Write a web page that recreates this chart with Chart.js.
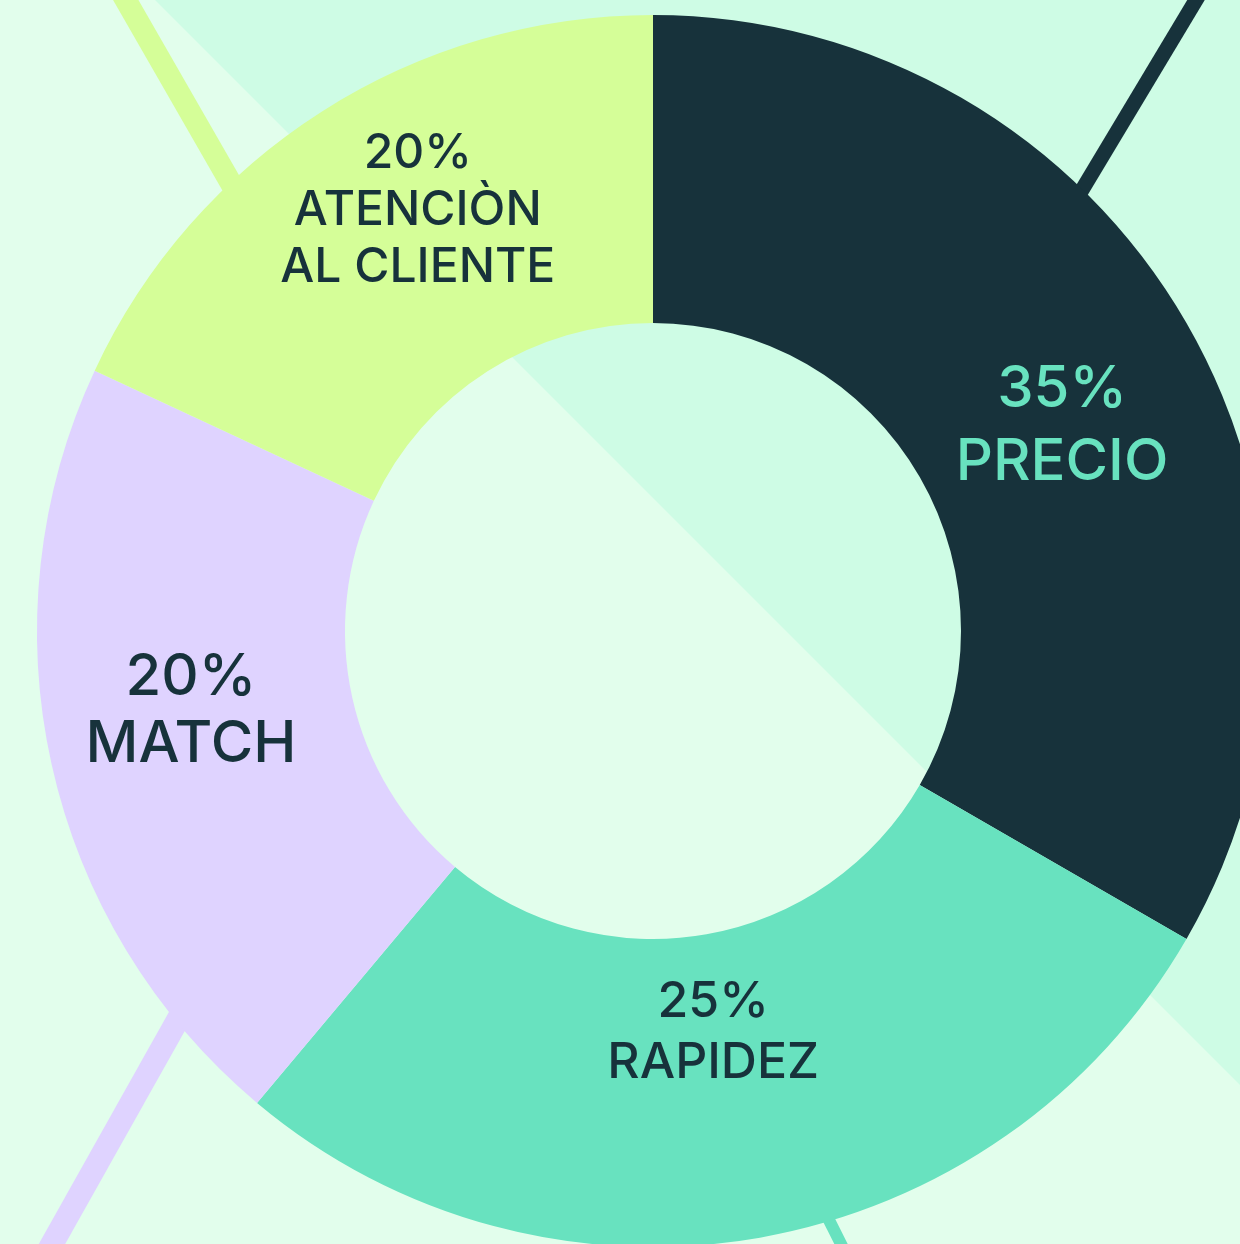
<!DOCTYPE html>
<html lang="es">
<head>
<meta charset="utf-8">
<title>Preferencias</title>
<script src="https://cdn.jsdelivr.net/npm/chart.js@4.4.1/dist/chart.umd.min.js"></script>
<style>
  html, body { margin: 0; padding: 0; overflow: hidden; background: #e2feec; }
  #chart { display: block; }
</style>
</head>
<body>
<canvas id="chart" width="1240" height="1244"></canvas>
<script>
// Categories, printed shares, and the slice sizes as they are actually drawn (degrees)
const categories = ['PRECIO', 'RAPIDEZ', 'MATCH', 'ATENCIÒN AL CLIENTE'];
const labelLines = [['PRECIO'], ['RAPIDEZ'], ['MATCH'], ['ATENCIÒN', 'AL CLIENTE']];
const printedShares = [35, 25, 20, 20];
const drawnDegrees = [120, 100, 75, 65];

// styles
const sliceColors = ['#17323b', '#68e2bf', '#dfd3ff', '#d5fe98'];
const textColors  = ['#68e2bf', '#17323b', '#17323b', '#17323b'];
const fontSizes   = [58, 50, 58, 48];
const lineHeights = [73, 61, 67, 57];
const labelNudge  = [[9, 22], [-20, -57], [-11, -24], [13, -34]];

const BG_LIGHT = '#e2feec';
const BG_MINT = '#cefce5';
const decoLines = [
    { color: '#d5fe98', width: 22, from: [120, -10], to: [298, 300] },
    { color: '#17323b', width: 15, from: [1202, -10], to: [1046, 250] },
    { color: '#dfd3ff', width: 23, from: [43, 1260], to: [217, 950] },
    { color: '#68e2bf', width: 12, from: [849, 1260], to: [809, 1180] },
];

const backdrop = {
    id: 'backdrop',
    beforeDraw(chart) {
        const ctx = chart.ctx;
        const w = chart.width, h = chart.height;
        ctx.save();
        ctx.fillStyle = BG_LIGHT;
        ctx.fillRect(0, 0, w, h);
        // diagonal split, line y = x - 155
        ctx.fillStyle = BG_MINT;
        ctx.beginPath();
        ctx.moveTo(155, 0);
        ctx.lineTo(w, 0);
        ctx.lineTo(w, w - 155);
        ctx.closePath();
        ctx.fill();
        decoLines.forEach(l => {
            ctx.strokeStyle = l.color;
            ctx.lineWidth = l.width;
            ctx.lineCap = 'butt';
            ctx.beginPath();
            ctx.moveTo(l.from[0], l.from[1]);
            ctx.lineTo(l.to[0], l.to[1]);
            ctx.stroke();
        });
        ctx.restore();
    }
};

const sliceLabels = {
    id: 'sliceLabels',
    afterDatasetsDraw(chart) {
        const ctx = chart.ctx;
        const arcs = chart.getDatasetMeta(0).data;
        ctx.save();
        ctx.textAlign = 'center';
        ctx.textBaseline = 'alphabetic';
        arcs.forEach((arc, i) => {
            const p = arc.getCenterPoint();
            const size = fontSizes[i];
            const lines = [printedShares[i] + '%'].concat(labelLines[i]);
            const cap = size * 0.727;
            const total = cap + (lines.length - 1) * lineHeights[i];
            const cx = p.x + labelNudge[i][0];
            let y = p.y + labelNudge[i][1] - total / 2 + cap;
            ctx.fillStyle = textColors[i];
            ctx.font = `500 ${size}px Inter, "Noto Sans", sans-serif`;
            lines.forEach(t => {
                ctx.fillText(t, cx, y);
                y += lineHeights[i];
            });
        });
        ctx.restore();
    }
};

new Chart(document.getElementById('chart'), {
    type: 'doughnut',
    data: {
        labels: categories,
        datasets: [{
            data: drawnDegrees,
            backgroundColor: sliceColors,
            borderWidth: 0,
            radius: 616,
            cutout: '50%',
        }],
    },
    options: {
        responsive: false,
        animation: false,
        events: [],
        layout: { padding: { left: 66, right: 0, top: 18, bottom: 0 } },
        plugins: { legend: { display: false }, tooltip: { enabled: false } },
    },
    plugins: [backdrop, sliceLabels],
});
</script>
</body>
</html>
